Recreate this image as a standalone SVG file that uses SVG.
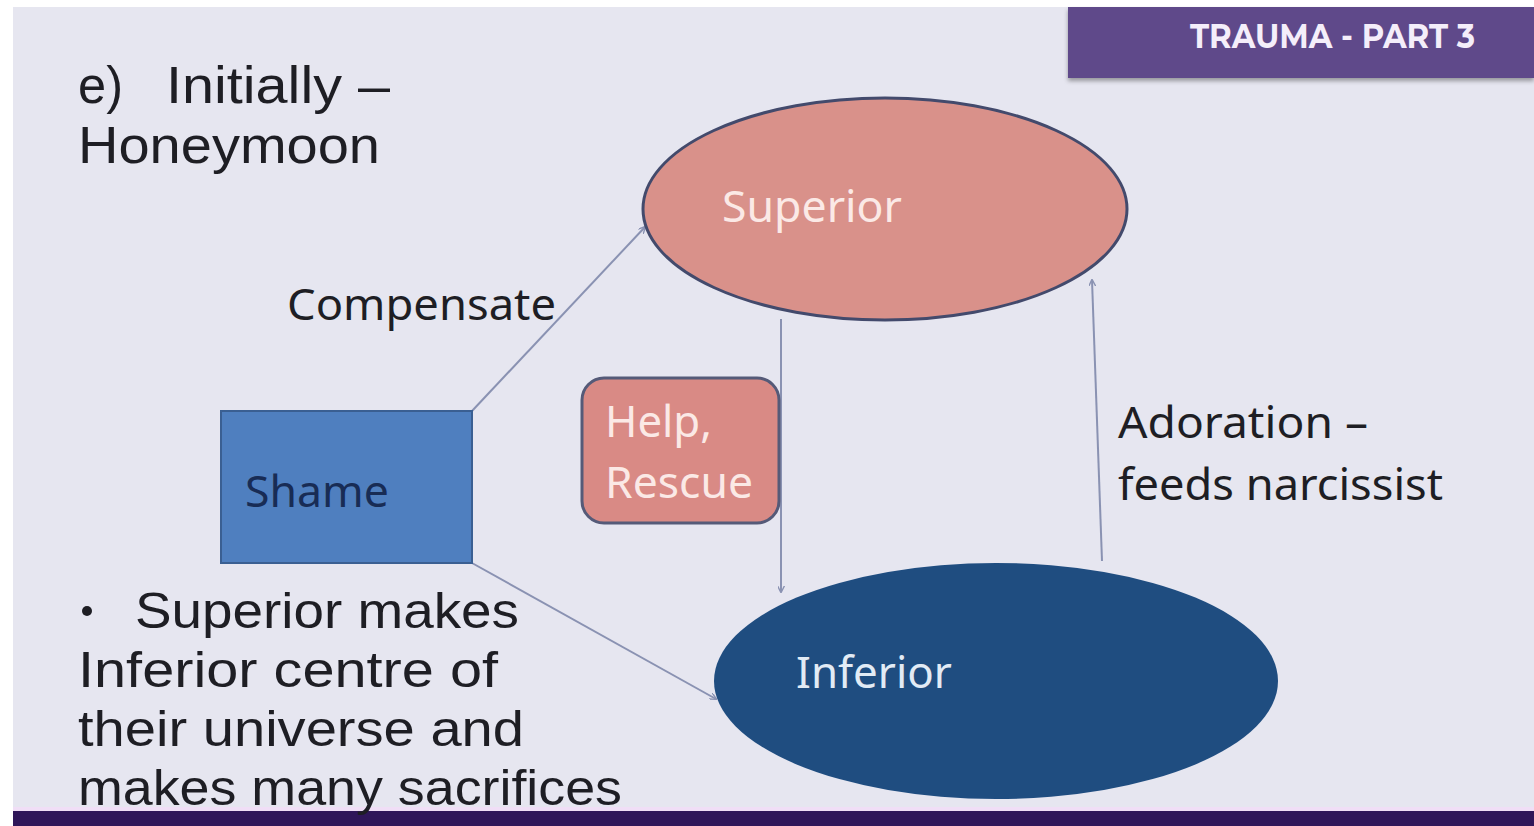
<svg xmlns="http://www.w3.org/2000/svg" width="1534" height="826" viewBox="0 0 1534 826">
<style>
.t{font-family:"Noto Sans","Open Sans","Liberation Sans",sans-serif;}
.a{font-family:"Liberation Sans",Arial,sans-serif;}
.dark{fill:#1e1e24;}
.light{fill:#fbe9e6;}
.conn{stroke:#8a92b2;stroke-width:2;fill:none;marker-end:url(#arr);}
</style>
<defs>
<marker id="arr" viewBox="0 0 10 10" refX="9" refY="5" markerWidth="7" markerHeight="7" orient="auto" markerUnits="userSpaceOnUse">
<path d="M0,0 L10,5 L0,10" fill="none" stroke="#8a92b2" stroke-width="2"/>
</marker>
<filter id="sh" x="-5%" y="-20%" width="110%" height="150%"><feDropShadow dx="0" dy="3" stdDeviation="2" flood-color="#000" flood-opacity="0.35"/></filter>
</defs>
<rect x="0" y="0" width="1534" height="826" fill="#ffffff"/>
<rect x="13" y="7" width="1521" height="819" fill="#e6e6f0"/>
<g id="header">
<rect x="1068" y="7" width="466" height="71" fill="#5e4a8a" filter="url(#sh)"/>
<text x="1190" y="48" font-weight="bold" font-size="34" fill="#f4eefa" textLength="285" lengthAdjust="spacingAndGlyphs" font-family="Montserrat,'Liberation Sans',sans-serif">TRAUMA - PART 3</text>
</g>
<g id="footer">
<rect x="13" y="807" width="1521" height="4" fill="#f0def6"/>
<rect x="13" y="811" width="1521" height="15" fill="#2f1659"/>
</g>
<g id="title">
<text class="a dark" font-size="52" x="78" y="103" textLength="45" lengthAdjust="spacingAndGlyphs">e)</text>
<text class="a dark" font-size="52" x="166" y="103" textLength="224" lengthAdjust="spacingAndGlyphs">Initially –</text>
<text class="a dark" font-size="52" x="78" y="163" textLength="302" lengthAdjust="spacingAndGlyphs">Honeymoon</text>
</g>
<g id="connectors">
<line class="conn" x1="472" y1="411" x2="645" y2="227"/>
<line class="conn" x1="472" y1="563" x2="716" y2="699"/>
<line class="conn" x1="781" y1="319" x2="781" y2="592"/>
<line class="conn" x1="1102" y1="561" x2="1092" y2="280"/>
</g>
<g id="superior">
<ellipse cx="885" cy="209" rx="242" ry="111" fill="#d9918a" stroke="#434a6c" stroke-width="3"/>
<text class="t light" font-size="44" x="722" y="222" textLength="180" lengthAdjust="spacingAndGlyphs">Superior</text>
</g>
<g id="inferior">
<ellipse cx="996" cy="681" rx="282" ry="118" fill="#1f4d80"/>
<text class="t" font-size="44" fill="#e2ebf5" x="796" y="688" textLength="156" lengthAdjust="spacingAndGlyphs">Inferior</text>
</g>
<g id="shame">
<rect x="221" y="411" width="251" height="152" fill="#4f7fbf" stroke="#3a5f92" stroke-width="2"/>
<text class="t" font-size="44" fill="#182c55" x="245" y="507" textLength="144" lengthAdjust="spacingAndGlyphs">Shame</text>
</g>
<g id="help">
<rect x="582" y="378" width="197" height="145" rx="22" fill="#d98a85" stroke="#555a78" stroke-width="3"/>
<text class="t light" font-size="44" x="605" y="437" textLength="107" lengthAdjust="spacingAndGlyphs">Help,</text>
<text class="t light" font-size="44" x="605" y="498" textLength="148" lengthAdjust="spacingAndGlyphs">Rescue</text>
</g>
<g id="labels">
<text class="t dark" font-size="44" x="287" y="320" textLength="269" lengthAdjust="spacingAndGlyphs">Compensate</text>
<text class="t dark" font-size="44" x="1118" y="438" textLength="250" lengthAdjust="spacingAndGlyphs">Adoration –</text>
<text class="t dark" font-size="44" x="1118" y="500" textLength="325" lengthAdjust="spacingAndGlyphs">feeds narcissist</text>
</g>
<g id="bullets">
<circle cx="87" cy="611" r="5" fill="#1e1e24"/>
<text class="a dark" font-size="50" x="135" y="628" textLength="384" lengthAdjust="spacingAndGlyphs">Superior makes</text>
<text class="a dark" font-size="50" x="78" y="687" textLength="420" lengthAdjust="spacingAndGlyphs">Inferior centre of</text>
<text class="a dark" font-size="50" x="78" y="746" textLength="446" lengthAdjust="spacingAndGlyphs">their universe and</text>
<text class="a dark" font-size="50" x="78" y="805" textLength="544" lengthAdjust="spacingAndGlyphs">makes many sacrifices</text>
</g>
</svg>
